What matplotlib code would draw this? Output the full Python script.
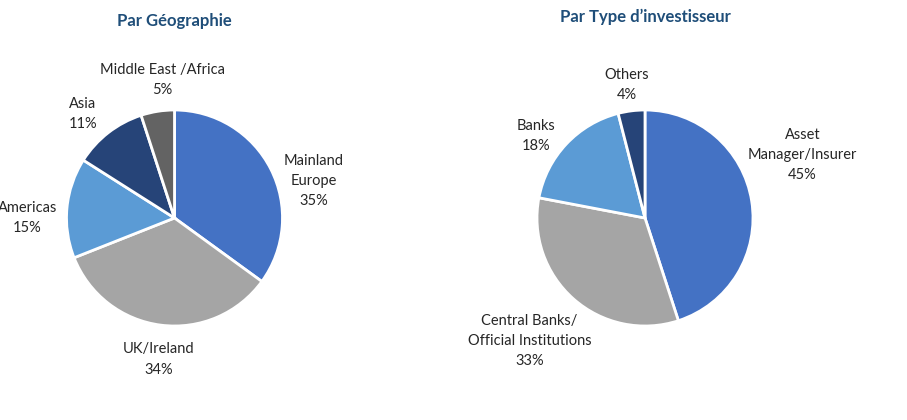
import matplotlib.pyplot as plt

plt.rcParams["font.family"] = ["Lato", "DejaVu Sans"]

geo_labels = ["Mainland\nEurope", "UK/Ireland", "Americas", "Asia", "Middle East /Africa"]
geo_values = [35, 34, 15, 11, 5]
geo_colors = ["#4472C4", "#A5A5A5", "#5B9BD5", "#264478", "#636363"]

inv_labels = ["Asset\nManager/Insurer", "Central Banks/\nOfficial Institutions", "Banks", "Others"]
inv_values = [45, 33, 18, 4]
inv_colors = ["#4472C4", "#A5A5A5", "#5B9BD5", "#264478"]

# label block centres, in pie-radius units from the pie centre
geo_label_pos = [(1.29, 0.34), (-0.15, -1.31), (-1.36, 0.0), (-0.85, 0.96), (-0.11, 1.28)]
inv_label_pos = [(1.46, 0.58), (-1.07, -1.14), (-1.01, 0.76), (-0.17, 1.23)]

W, H = 907, 420
R = 108


def draw_pie(fig, cx, cy, title, title_y, labels, values, colors, positions):
    ax = fig.add_axes([(cx - R) / W, (H - cy - R) / H, 2 * R / W, 2 * R / H])
    ax.pie(
        values,
        colors=colors,
        startangle=90,
        counterclock=False,
        radius=1,
        wedgeprops={"edgecolor": "white", "linewidth": 2},
    )
    ax.set_xlim(-1, 1)
    ax.set_ylim(-1, 1)
    ax.axis("off")
    for lab, val, (x, y) in zip(labels, values, positions):
        ax.text(x, y, f"{lab}\n{val}%", ha="center", va="center",
                fontsize=10.5, color="#262626", linespacing=1.55)
    fig.text(cx / W, 1 - title_y / H, title, ha="center", va="center",
             fontsize=12, fontweight="bold", color="#1F4E79")


fig = plt.figure(figsize=(W / 100, H / 100), dpi=100)
draw_pie(fig, 174.5, 218, "Par Géographie", 21, geo_labels, geo_values, geo_colors, geo_label_pos)
draw_pie(fig, 645, 218, "Par Type d\u2019investisseur", 17, inv_labels, inv_values, inv_colors, inv_label_pos)
fig.savefig("out.png", dpi=100)
